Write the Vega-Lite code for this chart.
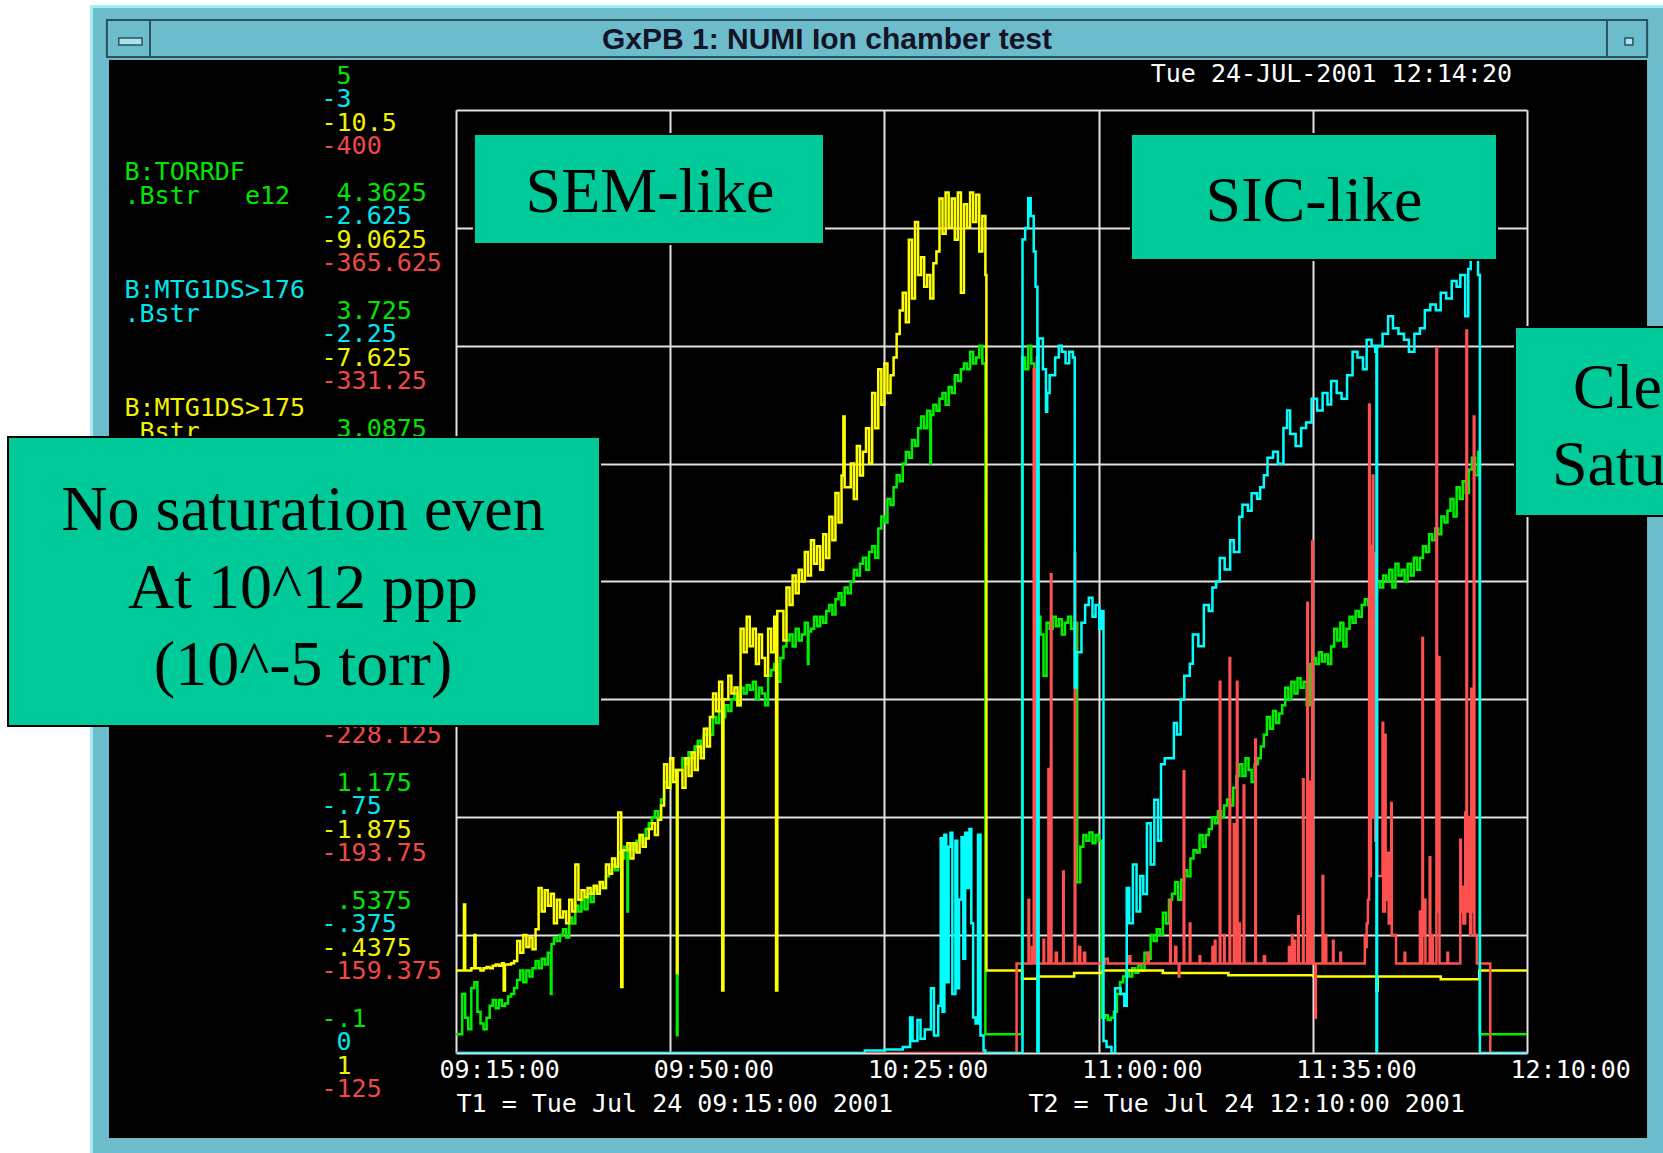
{
"$schema":"https://vega.github.io/schema/vega-lite/v6.json",
"width":1071,"height":943,
"autosize":{"type":"none"},
"padding":{"left":456,"top":110,"right":136,"bottom":100},
"background":"#000000",
"config":{"view":{"stroke":null},
 "axisY":{"domain":false,"ticks":false,"tickSize":0,"labelAlign":"left","labelBaseline":"middle","labelPadding":135,"labelFont":"DejaVu Sans Mono","labelFontSize":25,"labelFlush":false,"labelOverlap":false,"labelBound":false,"titleFont":"DejaVu Sans Mono","titleFontSize":25,"titleFontWeight":"normal","titleAngle":0,"titleAlign":"left","titleBaseline":"top","titleX":-332,"titleLineHeight":24,"zindex":0}},
"encoding":{"x":{"field":"t","type":"temporal",
 "scale":{"domain":[{"year":1900,"month":1,"date":1,"hours":9,"minutes":15},{"year":1900,"month":1,"date":1,"hours":12,"minutes":10}],"nice":false},
 "axis":{"values":[{"year":1900,"month":1,"date":1,"hours":9,"minutes":15},{"year":1900,"month":1,"date":1,"hours":9,"minutes":50},{"year":1900,"month":1,"date":1,"hours":10,"minutes":25},{"year":1900,"month":1,"date":1,"hours":11,"minutes":0},{"year":1900,"month":1,"date":1,"hours":11,"minutes":35},{"year":1900,"month":1,"date":1,"hours":12,"minutes":10}],
  "format":"%H:%M:%S","labelFont":"DejaVu Sans Mono","labelFontSize":25,"labelColor":"#ffffff","labelAlign":"left","labelOffset":-17,"labelBaseline":"middle","labelPadding":16,"labelFlush":false,"labelOverlap":false,"labelBound":false,
  "grid":true,"gridColor":"#e2e2e2","gridWidth":2,"domain":false,"ticks":false,"tickSize":0,
  "title":"T1 = Tue Jul 24 09:15:00 2001\u00a0\u00a0\u00a0\u00a0\u00a0\u00a0\u00a0\u00a0\u00a0T2 = Tue Jul 24 12:10:00 2001",
  "titleFont":"DejaVu Sans Mono","titleFontSize":25,"titleFontWeight":"normal","titleColor":"#ffffff","titleAlign":"left","titleAnchor":"start","titleBaseline":"middle","titleAngle":0,"titleX":0,"titleY":50,"zindex":0}}},
"layer":[
{"data":{"values":[{"t":"07:00:00","t2":"08:15:12","d":-3,"d2":11},{"t":"07:00:00","t2":"13:30:00","d":8.891,"d2":11}],"format":{"parse":{"t":"date:'%H:%M:%S'","t2":"date:'%H:%M:%S'"}}},
 "mark":{"type":"rect","fill":"#ffffff","clip":false},
 "encoding":{"x2":{"field":"t2"},"y":{"field":"d","type":"quantitative","scale":{"domain":[0,8],"nice":false,"zero":false},"axis":null},"y2":{"field":"d2"}}},
{"data":{"values":[{"t":"08:15:12","t2":"08:18:18","d":-3,"d2":8.891},{"t":"08:15:12","t2":"13:30:00","d":8.424,"d2":8.891},{"t":"12:29:37","t2":"13:30:00","d":-3,"d2":8.891},{"t":"08:15:12","t2":"13:30:00","d":-3,"d2":-0.721}],"format":{"parse":{"t":"date:'%H:%M:%S'","t2":"date:'%H:%M:%S'"}}},
 "mark":{"type":"rect","fill":"#6cbccb","clip":false},
 "encoding":{"x2":{"field":"t2"},"y":{"field":"d","type":"quantitative","scale":{"domain":[0,8],"nice":false,"zero":false},"axis":null},"y2":{"field":"d2"}}},
{"data":{"values":[{"t":"08:15:12","t2":"08:15:42","d":-3,"d2":8.891},{"t":"08:15:12","t2":"13:30:00","d":8.866,"d2":8.891}],"format":{"parse":{"t":"date:'%H:%M:%S'","t2":"date:'%H:%M:%S'"}}},
 "mark":{"type":"rect","fill":"#a6ecf5","clip":false},
 "encoding":{"x2":{"field":"t2"},"y":{"field":"d","type":"quantitative","scale":{"domain":[0,8],"nice":false,"zero":false},"axis":null},"y2":{"field":"d2"}}},
{"data":{"values":[{"t":"08:17:58","t2":"12:29:37","d":8.45,"d2":8.764},{"t":"08:17:58","t2":"08:25:00","d":8.45,"d2":8.764},{"t":"12:23:04","t2":"12:29:37","d":8.45,"d2":8.764}],"format":{"parse":{"t":"date:'%H:%M:%S'","t2":"date:'%H:%M:%S'"}}},
 "mark":{"type":"rect","fill":"#6cbccb","stroke":"#2b5260","strokeWidth":2,"clip":false},
 "encoding":{"x2":{"field":"t2"},"y":{"field":"d","type":"quantitative","scale":{"domain":[0,8],"nice":false,"zero":false},"axis":null},"y2":{"field":"d2"}}},
{"data":{"values":[{"t":"08:19:54","t2":"08:23:42","d":8.552,"d2":8.611},{"t":"12:26:00","t2":"12:27:18","d":8.552,"d2":8.611}],"format":{"parse":{"t":"date:'%H:%M:%S'","t2":"date:'%H:%M:%S'"}}},
 "mark":{"type":"rect","fill":"#a9e3ee","stroke":"#2b5260","strokeWidth":1.5,"clip":false},
 "encoding":{"x2":{"field":"t2"},"y":{"field":"d","type":"quantitative","scale":{"domain":[0,8],"nice":false,"zero":false},"axis":null},"y2":{"field":"d2"}}},
{"data":{"values":[
{"t":"09:15:00","v":0.002},{"t":"09:15:30","v":0.002},{"t":"09:16:00","v":0.219},{"t":"09:16:30","v":0.091},{"t":"09:17:00","v":0.028},{"t":"09:17:30","v":0.251},{"t":"09:18:00","v":0.283},{"t":"09:18:30","v":0.123},{"t":"09:19:00","v":0.059},{"t":"09:19:30","v":0.028},{"t":"09:20:00","v":0.091},{"t":"09:20:30","v":0.155},{"t":"09:21:00","v":0.187},{"t":"09:21:30","v":0.142},{"t":"09:22:00","v":0.187},{"t":"09:22:30","v":0.155},{"t":"09:23:00","v":0.168},{"t":"09:23:30","v":0.206},{"t":"09:24:00","v":0.219},{"t":"09:24:30","v":0.251},{"t":"09:25:00","v":0.295},{"t":"09:25:30","v":0.346},{"t":"09:26:00","v":0.283},{"t":"09:26:30","v":0.346},{"t":"09:27:00","v":0.314},{"t":"09:27:30","v":0.359},{"t":"09:28:00","v":0.397},{"t":"09:28:30","v":0.359},{"t":"09:29:00","v":0.41},{"t":"09:29:30","v":0.378},{"t":"09:30:00","v":0.442},{"t":"09:30:30","v":0.219},{"t":"09:30:36","v":0.49},{"t":"09:31:00","v":0.525},{"t":"09:31:30","v":0.506},{"t":"09:32:00","v":0.538},{"t":"09:32:30","v":0.569},{"t":"09:33:00","v":0.525},{"t":"09:33:30","v":0.633},{"t":"09:34:00","v":0.601},{"t":"09:34:30","v":0.697},{"t":"09:35:00","v":0.665},{"t":"09:35:30","v":0.729},{"t":"09:36:00","v":0.678},{"t":"09:36:30","v":0.761},{"t":"09:37:00","v":0.716},{"t":"09:37:30","v":0.793},{"t":"09:38:00","v":0.78},{"t":"09:38:30","v":0.824},{"t":"09:39:00","v":0.793},{"t":"09:39:30","v":0.856},{"t":"09:40:00","v":0.888},{"t":"09:40:30","v":0.92},{"t":"09:41:00","v":0.888},{"t":"09:41:30","v":0.984},{"t":"09:42:00","v":0.952},{"t":"09:42:30","v":1.016},{"t":"09:43:00","v":0.665},{"t":"09:43:06","v":1.0},{"t":"09:43:30","v":1.035},{"t":"09:44:00","v":0.997},{"t":"09:44:30","v":1.048},{"t":"09:45:00","v":1.079},{"t":"09:45:30","v":1.035},{"t":"09:46:00","v":1.111},{"t":"09:46:30","v":1.143},{"t":"09:47:00","v":1.175},{"t":"09:47:30","v":1.207},{"t":"09:48:00","v":1.162},{"t":"09:48:30","v":1.271},{"t":"09:49:00","v":1.366},{"t":"09:49:30","v":1.334},{"t":"09:50:00","v":1.398},{"t":"09:50:30","v":1.43},{"t":"09:51:00","v":1.366},{"t":"09:51:06","v":-0.004},{"t":"09:51:12","v":1.43},{"t":"09:52:00","v":1.494},{"t":"09:52:30","v":1.462},{"t":"09:53:00","v":1.526},{"t":"09:53:30","v":1.494},{"t":"09:54:00","v":1.558},{"t":"09:54:30","v":1.589},{"t":"09:55:00","v":1.526},{"t":"09:55:30","v":1.621},{"t":"09:56:00","v":1.653},{"t":"09:56:30","v":1.621},{"t":"09:57:00","v":1.717},{"t":"09:57:30","v":1.685},{"t":"09:58:00","v":1.749},{"t":"09:58:30","v":1.717},{"t":"09:59:00","v":1.781},{"t":"09:59:30","v":1.749},{"t":"10:00:00","v":1.813},{"t":"10:00:30","v":1.844},{"t":"10:01:00","v":1.781},{"t":"10:01:30","v":1.876},{"t":"10:02:00","v":1.844},{"t":"10:02:30","v":1.889},{"t":"10:03:00","v":1.864},{"t":"10:03:30","v":1.908},{"t":"10:04:00","v":1.813},{"t":"10:04:30","v":1.876},{"t":"10:05:00","v":1.844},{"t":"10:05:30","v":1.781},{"t":"10:06:00","v":1.94},{"t":"10:06:30","v":1.972},{"t":"10:07:00","v":2.004},{"t":"10:07:30","v":1.908},{"t":"10:08:00","v":2.036},{"t":"10:08:30","v":2.099},{"t":"10:09:00","v":2.131},{"t":"10:09:30","v":2.163},{"t":"10:10:00","v":2.099},{"t":"10:10:30","v":2.195},{"t":"10:11:00","v":2.131},{"t":"10:11:30","v":2.163},{"t":"10:12:00","v":2.227},{"t":"10:12:30","v":2.004},{"t":"10:12:36","v":2.18},{"t":"10:13:00","v":2.195},{"t":"10:13:30","v":2.259},{"t":"10:14:00","v":2.208},{"t":"10:14:30","v":2.259},{"t":"10:15:00","v":2.227},{"t":"10:15:30","v":2.291},{"t":"10:16:00","v":2.323},{"t":"10:16:30","v":2.272},{"t":"10:17:00","v":2.354},{"t":"10:17:30","v":2.386},{"t":"10:18:00","v":2.323},{"t":"10:18:30","v":2.418},{"t":"10:19:00","v":2.386},{"t":"10:19:30","v":2.45},{"t":"10:20:00","v":2.514},{"t":"10:20:30","v":2.482},{"t":"10:21:00","v":2.546},{"t":"10:21:30","v":2.578},{"t":"10:22:00","v":2.514},{"t":"10:22:30","v":2.609},{"t":"10:23:00","v":2.641},{"t":"10:23:30","v":2.578},{"t":"10:24:00","v":2.737},{"t":"10:24:30","v":2.801},{"t":"10:25:00","v":2.769},{"t":"10:25:30","v":2.896},{"t":"10:26:00","v":2.864},{"t":"10:26:30","v":2.96},{"t":"10:27:00","v":3.024},{"t":"10:27:30","v":2.992},{"t":"10:28:00","v":3.088},{"t":"10:28:30","v":3.151},{"t":"10:29:00","v":3.119},{"t":"10:29:30","v":3.215},{"t":"10:30:00","v":3.183},{"t":"10:30:30","v":3.279},{"t":"10:31:00","v":3.343},{"t":"10:31:30","v":3.279},{"t":"10:32:00","v":3.374},{"t":"10:32:30","v":3.088},{"t":"10:32:36","v":3.35},{"t":"10:33:00","v":3.406},{"t":"10:33:30","v":3.374},{"t":"10:34:00","v":3.438},{"t":"10:34:30","v":3.47},{"t":"10:35:00","v":3.406},{"t":"10:35:30","v":3.502},{"t":"10:36:00","v":3.47},{"t":"10:36:30","v":3.566},{"t":"10:37:00","v":3.534},{"t":"10:37:30","v":3.598},{"t":"10:38:00","v":3.629},{"t":"10:38:30","v":3.598},{"t":"10:39:00","v":3.693},{"t":"10:39:30","v":3.629},{"t":"10:40:00","v":3.661},{"t":"10:40:30","v":3.725},{"t":"10:41:00","v":3.629},{"t":"10:41:30","v":0.002},
{"t":"10:47:30","v":3.661},{"t":"10:48:00","v":3.598},{"t":"10:48:30","v":3.725},{"t":"10:49:00","v":3.629},{"t":"10:49:30","v":2.195},{"t":"10:50:00","v":2.259},{"t":"10:50:30","v":2.163},{"t":"10:51:00","v":1.94},{"t":"10:51:30","v":2.227},{"t":"10:52:00","v":2.195},{"t":"10:52:30","v":2.259},{"t":"10:53:00","v":2.208},{"t":"10:53:30","v":2.246},{"t":"10:54:00","v":2.163},{"t":"10:54:30","v":2.227},{"t":"10:55:00","v":2.259},{"t":"10:55:30","v":2.195},{"t":"10:56:00","v":2.227},{"t":"10:56:30","v":0.824},{"t":"10:57:00","v":1.016},{"t":"10:57:30","v":1.079},{"t":"10:58:00","v":1.048},{"t":"10:58:30","v":1.092},{"t":"10:59:00","v":1.035},{"t":"10:59:30","v":1.079},{"t":"11:00:00","v":1.048},{"t":"11:00:30","v":0.091},{"t":"11:01:00","v":0.104},{"t":"11:01:30","v":0.079},{"t":"11:02:00","v":0.091},{"t":"11:02:30","v":0.123},{"t":"11:03:00","v":0.219},{"t":"11:03:30","v":0.283},{"t":"11:04:00","v":0.314},{"t":"11:04:30","v":0.346},{"t":"11:05:00","v":0.314},{"t":"11:05:30","v":0.359},{"t":"11:06:00","v":0.334},{"t":"11:06:30","v":0.378},{"t":"11:07:00","v":0.346},{"t":"11:07:30","v":0.442},{"t":"11:08:00","v":0.41},{"t":"11:08:30","v":0.538},{"t":"11:09:00","v":0.506},{"t":"11:09:30","v":0.569},{"t":"11:10:00","v":0.538},{"t":"11:10:30","v":0.659},{"t":"11:11:00","v":0.601},{"t":"11:11:30","v":0.729},{"t":"11:12:00","v":0.761},{"t":"11:12:30","v":0.824},{"t":"11:13:00","v":0.729},{"t":"11:13:30","v":0.837},{"t":"11:14:00","v":0.888},{"t":"11:14:30","v":0.856},{"t":"11:15:00","v":0.952},{"t":"11:15:30","v":0.997},{"t":"11:16:00","v":0.984},{"t":"11:16:30","v":1.079},{"t":"11:17:00","v":1.016},{"t":"11:17:30","v":1.079},{"t":"11:18:00","v":1.111},{"t":"11:18:30","v":1.175},{"t":"11:19:00","v":1.143},{"t":"11:19:30","v":1.207},{"t":"11:20:00","v":1.175},{"t":"11:20:30","v":1.239},{"t":"11:21:00","v":1.271},{"t":"11:21:30","v":1.239},{"t":"11:22:00","v":1.334},{"t":"11:22:30","v":1.398},{"t":"11:23:00","v":1.462},{"t":"11:23:30","v":1.398},{"t":"11:24:00","v":1.494},{"t":"11:24:30","v":1.43},{"t":"11:25:00","v":1.366},{"t":"11:25:30","v":1.462},{"t":"11:26:00","v":1.494},{"t":"11:26:30","v":1.558},{"t":"11:27:00","v":1.621},{"t":"11:27:30","v":1.717},{"t":"11:28:00","v":1.653},{"t":"11:28:30","v":1.749},{"t":"11:29:00","v":1.685},{"t":"11:29:30","v":1.736},{"t":"11:30:00","v":1.781},{"t":"11:30:30","v":1.876},{"t":"11:31:00","v":1.813},{"t":"11:31:30","v":1.908},{"t":"11:32:00","v":1.844},{"t":"11:32:30","v":1.927},{"t":"11:33:00","v":1.876},{"t":"11:33:30","v":1.908},{"t":"11:34:00","v":1.781},{"t":"11:34:30","v":2.004},{"t":"11:35:00","v":2.036},{"t":"11:35:30","v":2.004},{"t":"11:36:00","v":2.068},{"t":"11:36:30","v":2.017},{"t":"11:37:00","v":2.055},{"t":"11:37:30","v":2.004},{"t":"11:38:00","v":2.099},{"t":"11:38:30","v":2.195},{"t":"11:39:00","v":2.131},{"t":"11:39:30","v":2.227},{"t":"11:40:00","v":2.099},{"t":"11:40:30","v":2.195},{"t":"11:41:00","v":2.259},{"t":"11:41:30","v":2.227},{"t":"11:42:00","v":2.291},{"t":"11:42:30","v":2.259},{"t":"11:43:00","v":2.323},{"t":"11:43:30","v":2.354},{"t":"11:44:00","v":2.323},{"t":"11:44:30","v":2.418},{"t":"11:45:00","v":2.386},{"t":"11:45:30","v":2.45},{"t":"11:46:00","v":2.418},{"t":"11:46:30","v":2.482},{"t":"11:47:00","v":2.45},{"t":"11:47:30","v":2.514},{"t":"11:48:00","v":2.418},{"t":"11:48:30","v":2.546},{"t":"11:49:00","v":2.482},{"t":"11:49:30","v":2.514},{"t":"11:50:00","v":2.45},{"t":"11:50:30","v":2.546},{"t":"11:51:00","v":2.482},{"t":"11:51:30","v":2.578},{"t":"11:52:00","v":2.514},{"t":"11:52:30","v":2.578},{"t":"11:53:00","v":2.641},{"t":"11:53:30","v":2.609},{"t":"11:54:00","v":2.705},{"t":"11:54:30","v":2.673},{"t":"11:55:00","v":2.737},{"t":"11:55:30","v":2.705},{"t":"11:56:00","v":2.801},{"t":"11:56:30","v":2.769},{"t":"11:57:00","v":2.833},{"t":"11:57:30","v":2.896},{"t":"11:58:00","v":2.801},{"t":"11:58:30","v":2.96},{"t":"11:59:00","v":2.896},{"t":"11:59:30","v":2.992},{"t":"12:00:00","v":2.928},{"t":"12:00:30","v":3.056},{"t":"12:01:00","v":3.119},{"t":"12:01:30","v":3.024},{"t":"12:02:00","v":3.151},{"t":"12:02:18","v":0.002},{"t":"12:10:00","v":0.002}
],"format":{"parse":{"t":"date:'%H:%M:%S'"}}},
 "mark":{"type":"line","interpolate":"step-after","color":"#00f000","strokeWidth":2.5,"clip":true},
 "encoding":{"y":{"field":"v","type":"quantitative","scale":{"domain":[-0.1,5],"nice":false,"zero":false},
  "axis":{"orient":"left","values":[5,4.3625,3.725,3.0875,2.45,1.8125,1.175,0.5375,-0.1],"labelExpr":"(datum.value >= 0 ? '\u200b\u00a0' : '') + (datum.value != 0 && abs(datum.value) < 1 ? replace('' + datum.value, '0.', '.') : '' + datum.value)","labelColor":"#00e600","labelOffset":-35,"grid":true,"gridColor":"#e2e2e2","gridWidth":2,"title":["B:TORRDF",".Bstr\u00a0\u00a0\u00a0e12"],"titleColor":"#00e600","titleY":49}}}},
{"data":{"values":[
{"t":"09:15:00","v":-0.006},{"t":"09:16:18","v":-0.811},{"t":"09:16:30","v":-0.006},{"t":"09:17:30","v":-0.035},{"t":"09:18:00","v":-0.438},{"t":"09:18:12","v":-0.035},{"t":"09:19:00","v":-0.006},{"t":"09:19:30","v":-0.035},{"t":"09:20:00","v":-0.049},{"t":"09:20:30","v":-0.035},{"t":"09:21:00","v":-0.064},{"t":"09:21:30","v":-0.078},{"t":"09:22:00","v":-0.064},{"t":"09:22:30","v":-0.093},{"t":"09:22:48","v":0.238},{"t":"09:23:00","v":-0.078},{"t":"09:24:00","v":-0.093},{"t":"09:24:30","v":-0.121},{"t":"09:25:00","v":-0.366},{"t":"09:25:30","v":-0.222},{"t":"09:26:00","v":-0.438},{"t":"09:26:30","v":-0.294},{"t":"09:27:00","v":-0.409},{"t":"09:27:30","v":-0.265},{"t":"09:28:00","v":-0.509},{"t":"09:28:30","v":-1.013},{"t":"09:29:00","v":-0.725},{"t":"09:29:30","v":-0.984},{"t":"09:30:00","v":-0.797},{"t":"09:30:30","v":-0.941},{"t":"09:31:00","v":-0.581},{"t":"09:31:30","v":-0.869},{"t":"09:32:00","v":-0.653},{"t":"09:32:30","v":-0.725},{"t":"09:33:00","v":-0.581},{"t":"09:33:30","v":-0.869},{"t":"09:34:00","v":-0.725},{"t":"09:34:30","v":-1.3},{"t":"09:35:00","v":-0.869},{"t":"09:35:30","v":-0.984},{"t":"09:36:00","v":-0.898},{"t":"09:36:30","v":-1.013},{"t":"09:37:00","v":-0.941},{"t":"09:37:30","v":-1.041},{"t":"09:38:00","v":-0.941},{"t":"09:38:30","v":-1.084},{"t":"09:39:00","v":-1.013},{"t":"09:39:30","v":-1.3},{"t":"09:40:00","v":-1.185},{"t":"09:40:30","v":-1.372},{"t":"09:41:00","v":-1.271},{"t":"09:41:30","v":-1.933},{"t":"09:42:00","v":0.195},{"t":"09:42:12","v":-1.473},{"t":"09:43:00","v":-1.559},{"t":"09:43:30","v":-1.372},{"t":"09:44:00","v":-1.559},{"t":"09:44:30","v":-1.444},{"t":"09:45:00","v":-1.659},{"t":"09:45:30","v":-1.516},{"t":"09:46:00","v":-1.616},{"t":"09:46:30","v":-1.731},{"t":"09:47:00","v":-1.803},{"t":"09:47:30","v":-1.659},{"t":"09:48:00","v":-1.846},{"t":"09:48:30","v":-2.019},{"t":"09:49:00","v":-2.522},{"t":"09:49:30","v":-2.234},{"t":"09:50:00","v":-2.594},{"t":"09:50:30","v":-2.306},{"t":"09:51:00","v":-2.45},{"t":"09:51:06","v":0.023},{"t":"09:51:12","v":-2.45},{"t":"09:52:00","v":-2.234},{"t":"09:52:30","v":-2.594},{"t":"09:53:00","v":-2.378},{"t":"09:53:30","v":-2.666},{"t":"09:54:00","v":-2.45},{"t":"09:54:30","v":-2.738},{"t":"09:55:00","v":-2.594},{"t":"09:55:30","v":-2.953},{"t":"09:56:00","v":-2.738},{"t":"09:56:30","v":-3.097},{"t":"09:57:00","v":-3.384},{"t":"09:57:30","v":-3.169},{"t":"09:58:00","v":-3.528},{"t":"09:58:30","v":0.238},{"t":"09:58:42","v":-3.313},{"t":"09:59:30","v":-3.6},{"t":"10:00:00","v":-3.384},{"t":"10:00:30","v":-3.456},{"t":"10:01:00","v":-3.241},{"t":"10:01:30","v":-4.175},{"t":"10:02:00","v":-3.888},{"t":"10:02:30","v":-4.319},{"t":"10:03:00","v":-3.959},{"t":"10:03:30","v":-4.175},{"t":"10:04:00","v":-3.744},{"t":"10:04:30","v":-4.103},{"t":"10:05:00","v":-3.816},{"t":"10:05:30","v":-3.6},{"t":"10:06:00","v":-4.175},{"t":"10:06:30","v":-3.888},{"t":"10:07:00","v":-4.319},{"t":"10:07:18","v":0.238},{"t":"10:07:30","v":-4.391},{"t":"10:08:30","v":-4.031},{"t":"10:09:00","v":-4.678},{"t":"10:09:30","v":-4.463},{"t":"10:10:00","v":-4.822},{"t":"10:10:30","v":-4.606},{"t":"10:11:00","v":-4.894},{"t":"10:11:30","v":-4.75},{"t":"10:12:00","v":-5.109},{"t":"10:12:30","v":-4.822},{"t":"10:13:00","v":-5.253},{"t":"10:13:30","v":-4.966},{"t":"10:14:00","v":-5.181},{"t":"10:14:30","v":-4.894},{"t":"10:15:00","v":-5.325},{"t":"10:15:30","v":-5.038},{"t":"10:16:00","v":-5.541},{"t":"10:16:30","v":-5.253},{"t":"10:17:00","v":-5.828},{"t":"10:17:30","v":-5.469},{"t":"10:18:00","v":-6.044},{"t":"10:18:18","v":-6.763},{"t":"10:18:30","v":-5.9},{"t":"10:19:30","v":-6.188},{"t":"10:20:00","v":-5.756},{"t":"10:20:30","v":-6.403},{"t":"10:21:00","v":-6.044},{"t":"10:21:30","v":-6.331},{"t":"10:22:00","v":-6.619},{"t":"10:22:30","v":-6.188},{"t":"10:23:00","v":-7.05},{"t":"10:23:30","v":-6.619},{"t":"10:24:00","v":-7.338},{"t":"10:24:30","v":-6.906},{"t":"10:25:00","v":-7.409},{"t":"10:25:30","v":-7.05},{"t":"10:26:00","v":-7.266},{"t":"10:26:30","v":-7.481},{"t":"10:27:00","v":-7.769},{"t":"10:27:30","v":-8.056},{"t":"10:28:00","v":-8.272},{"t":"10:28:30","v":-7.913},{"t":"10:29:00","v":-8.919},{"t":"10:29:30","v":-8.2},{"t":"10:30:00","v":-9.134},{"t":"10:30:30","v":-8.488},{"t":"10:31:00","v":-8.703},{"t":"10:31:30","v":-8.344},{"t":"10:32:00","v":-8.488},{"t":"10:32:30","v":-8.2},{"t":"10:33:00","v":-8.631},{"t":"10:33:30","v":-8.775},{"t":"10:34:00","v":-9.422},{"t":"10:34:30","v":-8.991},{"t":"10:35:00","v":-9.494},{"t":"10:35:30","v":-9.063},{"t":"10:36:00","v":-9.422},{"t":"10:36:30","v":-8.919},{"t":"10:37:00","v":-9.494},{"t":"10:37:30","v":-8.272},{"t":"10:38:00","v":-9.35},{"t":"10:38:30","v":-9.063},{"t":"10:39:00","v":-9.494},{"t":"10:39:30","v":-9.134},{"t":"10:40:00","v":-9.465},{"t":"10:40:30","v":-8.775},{"t":"10:41:00","v":-9.206},{"t":"10:41:30","v":-8.488},{"t":"10:41:40","v":-0.006},{"t":"10:47:30","v":0.094},{"t":"10:50:00","v":0.066},{"t":"10:56:00","v":0.023},{"t":"11:00:42","v":-0.006},{"t":"11:10:30","v":0.023},{"t":"11:21:12","v":0.051},{"t":"11:35:06","v":0.066},{"t":"11:45:24","v":0.238},{"t":"11:45:36","v":0.066},{"t":"11:55:54","v":0.102},{"t":"12:02:12","v":-0.006},{"t":"12:10:00","v":-0.006}
],"format":{"parse":{"t":"date:'%H:%M:%S'"}}},
 "mark":{"type":"line","interpolate":"step-after","color":"#ffff00","strokeWidth":2.5,"clip":true},
 "encoding":{"y":{"field":"v","type":"quantitative","scale":{"domain":[1,-10.5],"nice":false,"zero":false},
  "axis":{"orient":"left","values":[-10.5,-9.0625,-7.625,-6.1875,-4.75,-3.3125,-1.875,-0.4375,1],"labelExpr":"(datum.value >= 0 ? '\u200b\u00a0' : '') + (datum.value != 0 && abs(datum.value) < 1 ? replace('' + datum.value, '0.', '.') : '' + datum.value)","labelColor":"#f2f200","labelOffset":12,"grid":false,"title":["B:MTG1DS>175",".Bstr"],"titleColor":"#f2f200","titleY":285}}}},
{"data":{"values":[
{"t":"09:15:00","v":-125},{"t":"10:46:30","v":-125},{"t":"10:46:36","v":-151.1},{"t":"10:48:33","v":-169.7},{"t":"10:48:39","v":-151.1},{"t":"10:49:06","v":-155.9},{"t":"10:49:12","v":-151.1},{"t":"10:49:24","v":-324.4},{"t":"10:49:30","v":-151.1},{"t":"10:49:54","v":-327.8},{"t":"10:50:00","v":-151.1},{"t":"10:51:00","v":-158.0},{"t":"10:51:06","v":-151.1},{"t":"10:51:48","v":-207.8},{"t":"10:51:54","v":-151.1},{"t":"10:52:12","v":-264.6},{"t":"10:52:18","v":-151.1},{"t":"10:53:00","v":-154.2},{"t":"10:53:12","v":-151.1},{"t":"10:54:12","v":-177.9},{"t":"10:54:18","v":-151.1},{"t":"10:56:06","v":-270.8},{"t":"10:56:12","v":-151.1},{"t":"10:56:48","v":-155.9},{"t":"10:57:00","v":-151.1},{"t":"10:57:36","v":-154.2},{"t":"10:57:48","v":-151.1},{"t":"11:01:00","v":-152.5},{"t":"11:01:30","v":-151.1},{"t":"11:05:00","v":-153.2},{"t":"11:05:12","v":-151.1},{"t":"11:08:00","v":-154.2},{"t":"11:08:12","v":-151.1},{"t":"11:11:42","v":-169.7},{"t":"11:11:48","v":-151.1},{"t":"11:12:30","v":-155.9},{"t":"11:12:42","v":-151.1},{"t":"11:13:06","v":-147.3},{"t":"11:13:12","v":-151.1},{"t":"11:13:54","v":-207.2},{"t":"11:14:00","v":-151.1},{"t":"11:14:54","v":-162.8},{"t":"11:15:00","v":-151.1},{"t":"11:16:30","v":-153.2},{"t":"11:16:36","v":-151.1},{"t":"11:18:36","v":-155.9},{"t":"11:18:42","v":-151.1},{"t":"11:19:00","v":-157.7},{"t":"11:19:06","v":-151.1},{"t":"11:19:48","v":-233.3},{"t":"11:19:54","v":-151.1},{"t":"11:20:30","v":-159.4},{"t":"11:20:36","v":-151.1},{"t":"11:21:24","v":-240.2},{"t":"11:21:30","v":-151.1},{"t":"11:22:06","v":-191.7},{"t":"11:22:12","v":-151.1},{"t":"11:22:36","v":-233.3},{"t":"11:22:42","v":-151.1},{"t":"11:23:00","v":-162.8},{"t":"11:23:06","v":-151.1},{"t":"11:23:42","v":-203.0},{"t":"11:23:48","v":-151.1},{"t":"11:25:36","v":-216.4},{"t":"11:25:42","v":-151.1},{"t":"11:27:00","v":-153.2},{"t":"11:27:12","v":-151.1},{"t":"11:31:06","v":-155.9},{"t":"11:31:12","v":-151.1},{"t":"11:31:36","v":-159.4},{"t":"11:31:42","v":-151.1},{"t":"11:32:00","v":-157.7},{"t":"11:32:06","v":-151.1},{"t":"11:32:36","v":-164.9},{"t":"11:32:42","v":-151.1},{"t":"11:33:24","v":-204.8},{"t":"11:33:30","v":-151.1},{"t":"11:34:06","v":-256.3},{"t":"11:34:12","v":-151.1},{"t":"11:34:36","v":-204.1},{"t":"11:34:42","v":-151.1},{"t":"11:34:54","v":-274.2},{"t":"11:35:00","v":-151.1},{"t":"11:35:24","v":-135.3},{"t":"11:35:30","v":-151.1},{"t":"11:36:36","v":-176.6},{"t":"11:36:42","v":-151.1},{"t":"11:37:06","v":-159.4},{"t":"11:37:12","v":-151.1},{"t":"11:38:18","v":-157.7},{"t":"11:38:24","v":-151.1},{"t":"11:39:30","v":-154.2},{"t":"11:39:36","v":-151.1},{"t":"11:43:30","v":-159.4},{"t":"11:43:36","v":-155.9},{"t":"11:43:48","v":-162.8},{"t":"11:44:00","v":-169.7},{"t":"11:44:12","v":-314.1},{"t":"11:44:18","v":-176.6},{"t":"11:44:30","v":-272.8},{"t":"11:44:36","v":-193.8},{"t":"11:44:48","v":-293.4},{"t":"11:44:54","v":-200.6},{"t":"11:45:06","v":-270.8},{"t":"11:45:12","v":-186.9},{"t":"11:45:24","v":-228.1},{"t":"11:45:30","v":-176.6},{"t":"11:46:24","v":-221.3},{"t":"11:46:30","v":-166.3},{"t":"11:46:48","v":-217.8},{"t":"11:46:54","v":-169.7},{"t":"11:47:18","v":-183.4},{"t":"11:47:24","v":-162.8},{"t":"11:47:48","v":-197.9},{"t":"11:47:54","v":-159.4},{"t":"11:48:24","v":-159.4},{"t":"11:48:36","v":-151.1},{"t":"11:50:00","v":-154.2},{"t":"11:50:06","v":-151.1},{"t":"11:52:30","v":-166.3},{"t":"11:52:36","v":-151.1},{"t":"11:52:54","v":-246.0},{"t":"11:53:00","v":-159.4},{"t":"11:53:18","v":-169.7},{"t":"11:53:24","v":-151.1},{"t":"11:54:06","v":-182.1},{"t":"11:54:12","v":-151.1},{"t":"11:54:30","v":-159.4},{"t":"11:54:36","v":-151.1},{"t":"11:55:12","v":-330.6},{"t":"11:55:18","v":-166.3},{"t":"11:55:36","v":-240.5},{"t":"11:55:42","v":-151.1},{"t":"11:57:00","v":-154.2},{"t":"11:57:06","v":-151.1},{"t":"11:59:06","v":-187.2},{"t":"11:59:12","v":-166.3},{"t":"11:59:30","v":-173.5},{"t":"11:59:36","v":-162.8},{"t":"11:59:54","v":-195.1},{"t":"12:00:00","v":-169.7},{"t":"12:00:06","v":-335.7},{"t":"12:00:12","v":-166.3},{"t":"12:00:36","v":-193.8},{"t":"12:00:42","v":-159.4},{"t":"12:00:54","v":-231.2},{"t":"12:01:00","v":-166.3},{"t":"12:01:18","v":-310.6},{"t":"12:01:24","v":-159.4},{"t":"12:01:42","v":-159.4},{"t":"12:01:48","v":-151.1},{"t":"12:04:00","v":-125},{"t":"12:10:00","v":-125}
],"format":{"parse":{"t":"date:'%H:%M:%S'"}}},
 "mark":{"type":"line","interpolate":"step-after","color":"#ff5050","strokeWidth":2.5,"clip":true},
 "encoding":{"y":{"field":"v","type":"quantitative","scale":{"domain":[-125,-400],"nice":false,"zero":false},
  "axis":{"orient":"left","values":[-400,-365.625,-331.25,-296.875,-262.5,-228.125,-193.75,-159.375,-125],"labelExpr":"(datum.value >= 0 ? '\u200b\u00a0' : '') + (datum.value != 0 && abs(datum.value) < 1 ? replace('' + datum.value, '0.', '.') : '' + datum.value)","labelColor":"#f04848","labelOffset":35,"grid":false,"title":null}}}},
{"data":{"values":[
{"t":"09:15:00","v":0},{"t":"10:21:48","v":-0.008},{"t":"10:25:00","v":-0.011},{"t":"10:28:00","v":-0.019},{"t":"10:29:12","v":-0.113},{"t":"10:29:36","v":-0.038},{"t":"10:30:24","v":-0.105},{"t":"10:30:54","v":-0.045},{"t":"10:31:36","v":-0.075},{"t":"10:32:36","v":-0.206},{"t":"10:33:06","v":-0.056},{"t":"10:33:48","v":-0.15},{"t":"10:34:12","v":-0.683},{"t":"10:34:30","v":-0.131},{"t":"10:34:48","v":-0.694},{"t":"10:35:06","v":-0.225},{"t":"10:35:30","v":-0.656},{"t":"10:35:48","v":-0.701},{"t":"10:36:06","v":-0.188},{"t":"10:36:36","v":-0.675},{"t":"10:36:54","v":-0.206},{"t":"10:37:12","v":-0.488},{"t":"10:37:36","v":-0.686},{"t":"10:37:54","v":-0.3},{"t":"10:38:12","v":-0.701},{"t":"10:38:36","v":-0.525},{"t":"10:38:54","v":-0.713},{"t":"10:39:12","v":-0.413},{"t":"10:39:30","v":-0.113},{"t":"10:39:54","v":-0.094},{"t":"10:40:18","v":-0.694},{"t":"10:40:42","v":-0.056},{"t":"10:41:12","v":-0.008},{"t":"10:41:30","v":0},{"t":"10:47:34","v":-2.588},{"t":"10:48:00","v":-2.625},{"t":"10:48:30","v":-2.719},{"t":"10:48:54","v":-2.663},{"t":"10:49:24","v":-2.55},{"t":"10:49:42","v":-2.438},{"t":"10:50:00","v":0},{"t":"10:50:12","v":-2.273},{"t":"10:50:54","v":-2.175},{"t":"10:51:24","v":-2.04},{"t":"10:51:36","v":-2.1},{"t":"10:52:00","v":-2.156},{"t":"10:52:54","v":-2.213},{"t":"10:53:30","v":-2.25},{"t":"10:54:00","v":-2.231},{"t":"10:54:36","v":-2.194},{"t":"10:55:12","v":-2.231},{"t":"10:55:48","v":-2.213},{"t":"10:56:06","v":-1.163},{"t":"10:56:24","v":-1.275},{"t":"10:57:12","v":-1.369},{"t":"10:57:48","v":-1.425},{"t":"10:58:24","v":-1.448},{"t":"10:59:00","v":-1.388},{"t":"10:59:30","v":-1.425},{"t":"11:00:06","v":-1.35},{"t":"11:00:30","v":-1.406},{"t":"11:00:48","v":-0.038},{"t":"11:01:18","v":-0.019},{"t":"11:02:06","v":0},{"t":"11:02:42","v":-0.206},{"t":"11:03:36","v":-0.188},{"t":"11:04:12","v":-0.15},{"t":"11:04:36","v":-0.525},{"t":"11:05:00","v":-0.413},{"t":"11:05:36","v":-0.6},{"t":"11:06:12","v":-0.45},{"t":"11:06:48","v":-0.563},{"t":"11:07:18","v":-0.506},{"t":"11:07:54","v":-0.731},{"t":"11:08:30","v":-0.6},{"t":"11:09:06","v":-0.806},{"t":"11:09:42","v":-0.675},{"t":"11:10:12","v":-0.919},{"t":"11:10:48","v":-0.938},{"t":"11:11:42","v":-0.938},{"t":"11:12:18","v":-1.05},{"t":"11:12:48","v":-1.013},{"t":"11:13:24","v":-1.125},{"t":"11:14:00","v":-1.2},{"t":"11:14:54","v":-1.238},{"t":"11:15:24","v":-1.331},{"t":"11:16:18","v":-1.294},{"t":"11:17:12","v":-1.425},{"t":"11:18:00","v":-1.406},{"t":"11:18:36","v":-1.481},{"t":"11:19:12","v":-1.5},{"t":"11:19:48","v":-1.575},{"t":"11:20:36","v":-1.538},{"t":"11:21:30","v":-1.631},{"t":"11:22:06","v":-1.594},{"t":"11:23:00","v":-1.706},{"t":"11:23:30","v":-1.744},{"t":"11:24:24","v":-1.725},{"t":"11:25:00","v":-1.781},{"t":"11:25:54","v":-1.763},{"t":"11:26:24","v":-1.8},{"t":"11:27:00","v":-1.838},{"t":"11:27:36","v":-1.894},{"t":"11:28:30","v":-1.913},{"t":"11:29:18","v":-1.875},{"t":"11:30:12","v":-1.988},{"t":"11:30:48","v":-2.044},{"t":"11:31:18","v":-1.969},{"t":"11:32:12","v":-1.931},{"t":"11:33:06","v":-1.988},{"t":"11:33:54","v":-2.006},{"t":"11:34:48","v":-2.081},{"t":"11:35:42","v":-2.044},{"t":"11:36:36","v":-2.1},{"t":"11:37:24","v":-2.063},{"t":"11:38:00","v":-2.138},{"t":"11:38:54","v":-2.1},{"t":"11:39:42","v":-2.081},{"t":"11:40:36","v":-2.156},{"t":"11:41:30","v":-2.231},{"t":"11:42:18","v":-2.213},{"t":"11:43:12","v":-2.175},{"t":"11:43:48","v":-2.269},{"t":"11:44:36","v":-2.25},{"t":"11:45:12","v":-2.231},{"t":"11:45:24","v":0},{"t":"11:45:30","v":-2.25},{"t":"11:46:24","v":-2.288},{"t":"11:47:18","v":-2.344},{"t":"11:48:06","v":-2.306},{"t":"11:49:00","v":-2.288},{"t":"11:49:54","v":-2.269},{"t":"11:50:42","v":-2.231},{"t":"11:51:36","v":-2.288},{"t":"11:52:30","v":-2.306},{"t":"11:53:18","v":-2.363},{"t":"11:54:12","v":-2.381},{"t":"11:55:06","v":-2.363},{"t":"11:55:54","v":-2.419},{"t":"11:56:48","v":-2.4},{"t":"11:57:42","v":-2.456},{"t":"11:58:30","v":-2.438},{"t":"11:59:06","v":-2.475},{"t":"11:59:54","v":-2.344},{"t":"12:00:24","v":-2.494},{"t":"12:00:48","v":-2.531},{"t":"12:01:24","v":-2.531},{"t":"12:02:00","v":-2.475},{"t":"12:02:18","v":0},{"t":"12:10:00","v":0}
],"format":{"parse":{"t":"date:'%H:%M:%S'"}}},
 "mark":{"type":"line","interpolate":"step-after","color":"#00ffff","strokeWidth":2.5,"clip":true},
 "encoding":{"y":{"field":"v","type":"quantitative","scale":{"domain":[0,-3],"nice":false,"zero":false},
  "axis":{"orient":"left","values":[-3,-2.625,-2.25,-1.875,-1.5,-1.125,-0.75,-0.375,0],"labelExpr":"(datum.value >= 0 ? '\u200b\u00a0' : '') + (datum.value != 0 && abs(datum.value) < 1 ? replace('' + datum.value, '0.', '.') : '' + datum.value)","labelColor":"#00e6f0","labelOffset":-12,"grid":false,"title":["B:MTG1DS>176",".Bstr"],"titleColor":"#00e6f0","titleY":167}}}},
{"data":{"values":[{"t":"09:17:56","t2":"10:15:08","d":6.863,"d2":7.796},{"t":"11:05:17","t2":"12:05:06","d":6.727,"d2":7.796},{"t":"12:08:02","t2":"13:30:00","d":4.556,"d2":6.159},{"t":"08:01:48","t2":"09:38:32","d":2.774,"d2":5.226}],"format":{"parse":{"t":"date:'%H:%M:%S'","t2":"date:'%H:%M:%S'"}}},
 "mark":{"type":"rect","fill":"#00c99a","stroke":"#000000","strokeWidth":2,"clip":false},
 "encoding":{"x2":{"field":"t2"},"y":{"field":"d","type":"quantitative","scale":{"domain":[0,8],"nice":false,"zero":false},"axis":null},"y2":{"field":"d2"}}},
{"data":{"values":[{"t":"09:46:42","d":7.3,"label":"SEM-like"},{"t":"11:35:12","d":7.22,"label":"SIC-like"},{"t":"08:50:00","d":4.598,"label":"No saturation even"},{"t":"08:50:00","d":3.936,"label":"At 10^12 ppp"},{"t":"08:50:00","d":3.283,"label":"(10^-5 torr)"}],"format":{"parse":{"t":"date:'%H:%M:%S'"}}},
 "mark":{"type":"text","font":"Liberation Serif","fontSize":64,"color":"#000000","align":"center","baseline":"middle","clip":false},
 "encoding":{"y":{"field":"d","type":"quantitative","scale":{"domain":[0,8],"nice":false,"zero":false},"axis":null},"text":{"field":"label","type":"nominal"}}},
{"data":{"values":[{"t":"12:17:31","d":5.633,"label":"Clear"},{"t":"12:14:05","d":4.984,"label":"Saturation"}],"format":{"parse":{"t":"date:'%H:%M:%S'"}}},
 "mark":{"type":"text","font":"Liberation Serif","fontSize":64,"color":"#000000","align":"left","baseline":"middle","clip":false},
 "encoding":{"y":{"field":"d","type":"quantitative","scale":{"domain":[0,8],"nice":false,"zero":false},"axis":null},"text":{"field":"label","type":"nominal"}}},
{"data":{"values":[{"t":"10:15:37","d":8.594,"label":"GxPB 1: NUMI Ion chamber test"}],"format":{"parse":{"t":"date:'%H:%M:%S'"}}},
 "mark":{"type":"text","font":"Liberation Sans","fontSize":30,"fontWeight":"bold","color":"#141428","align":"center","baseline":"middle","clip":false},
 "encoding":{"y":{"field":"d","type":"quantitative","scale":{"domain":[0,8],"nice":false,"zero":false},"axis":null},"text":{"field":"label","type":"nominal"}}},
{"data":{"values":[{"t":"12:07:33","d":8.305,"label":"Tue 24-JUL-2001 12:14:20"}],"format":{"parse":{"t":"date:'%H:%M:%S'"}}},
 "mark":{"type":"text","font":"DejaVu Sans Mono","fontSize":25,"color":"#ffffff","align":"right","baseline":"middle","clip":false},
 "encoding":{"y":{"field":"d","type":"quantitative","scale":{"domain":[0,8],"nice":false,"zero":false},"axis":null},"text":{"field":"label","type":"nominal"}}}
],
"resolve":{"scale":{"y":"independent"},"axis":{"y":"independent"}}
}
